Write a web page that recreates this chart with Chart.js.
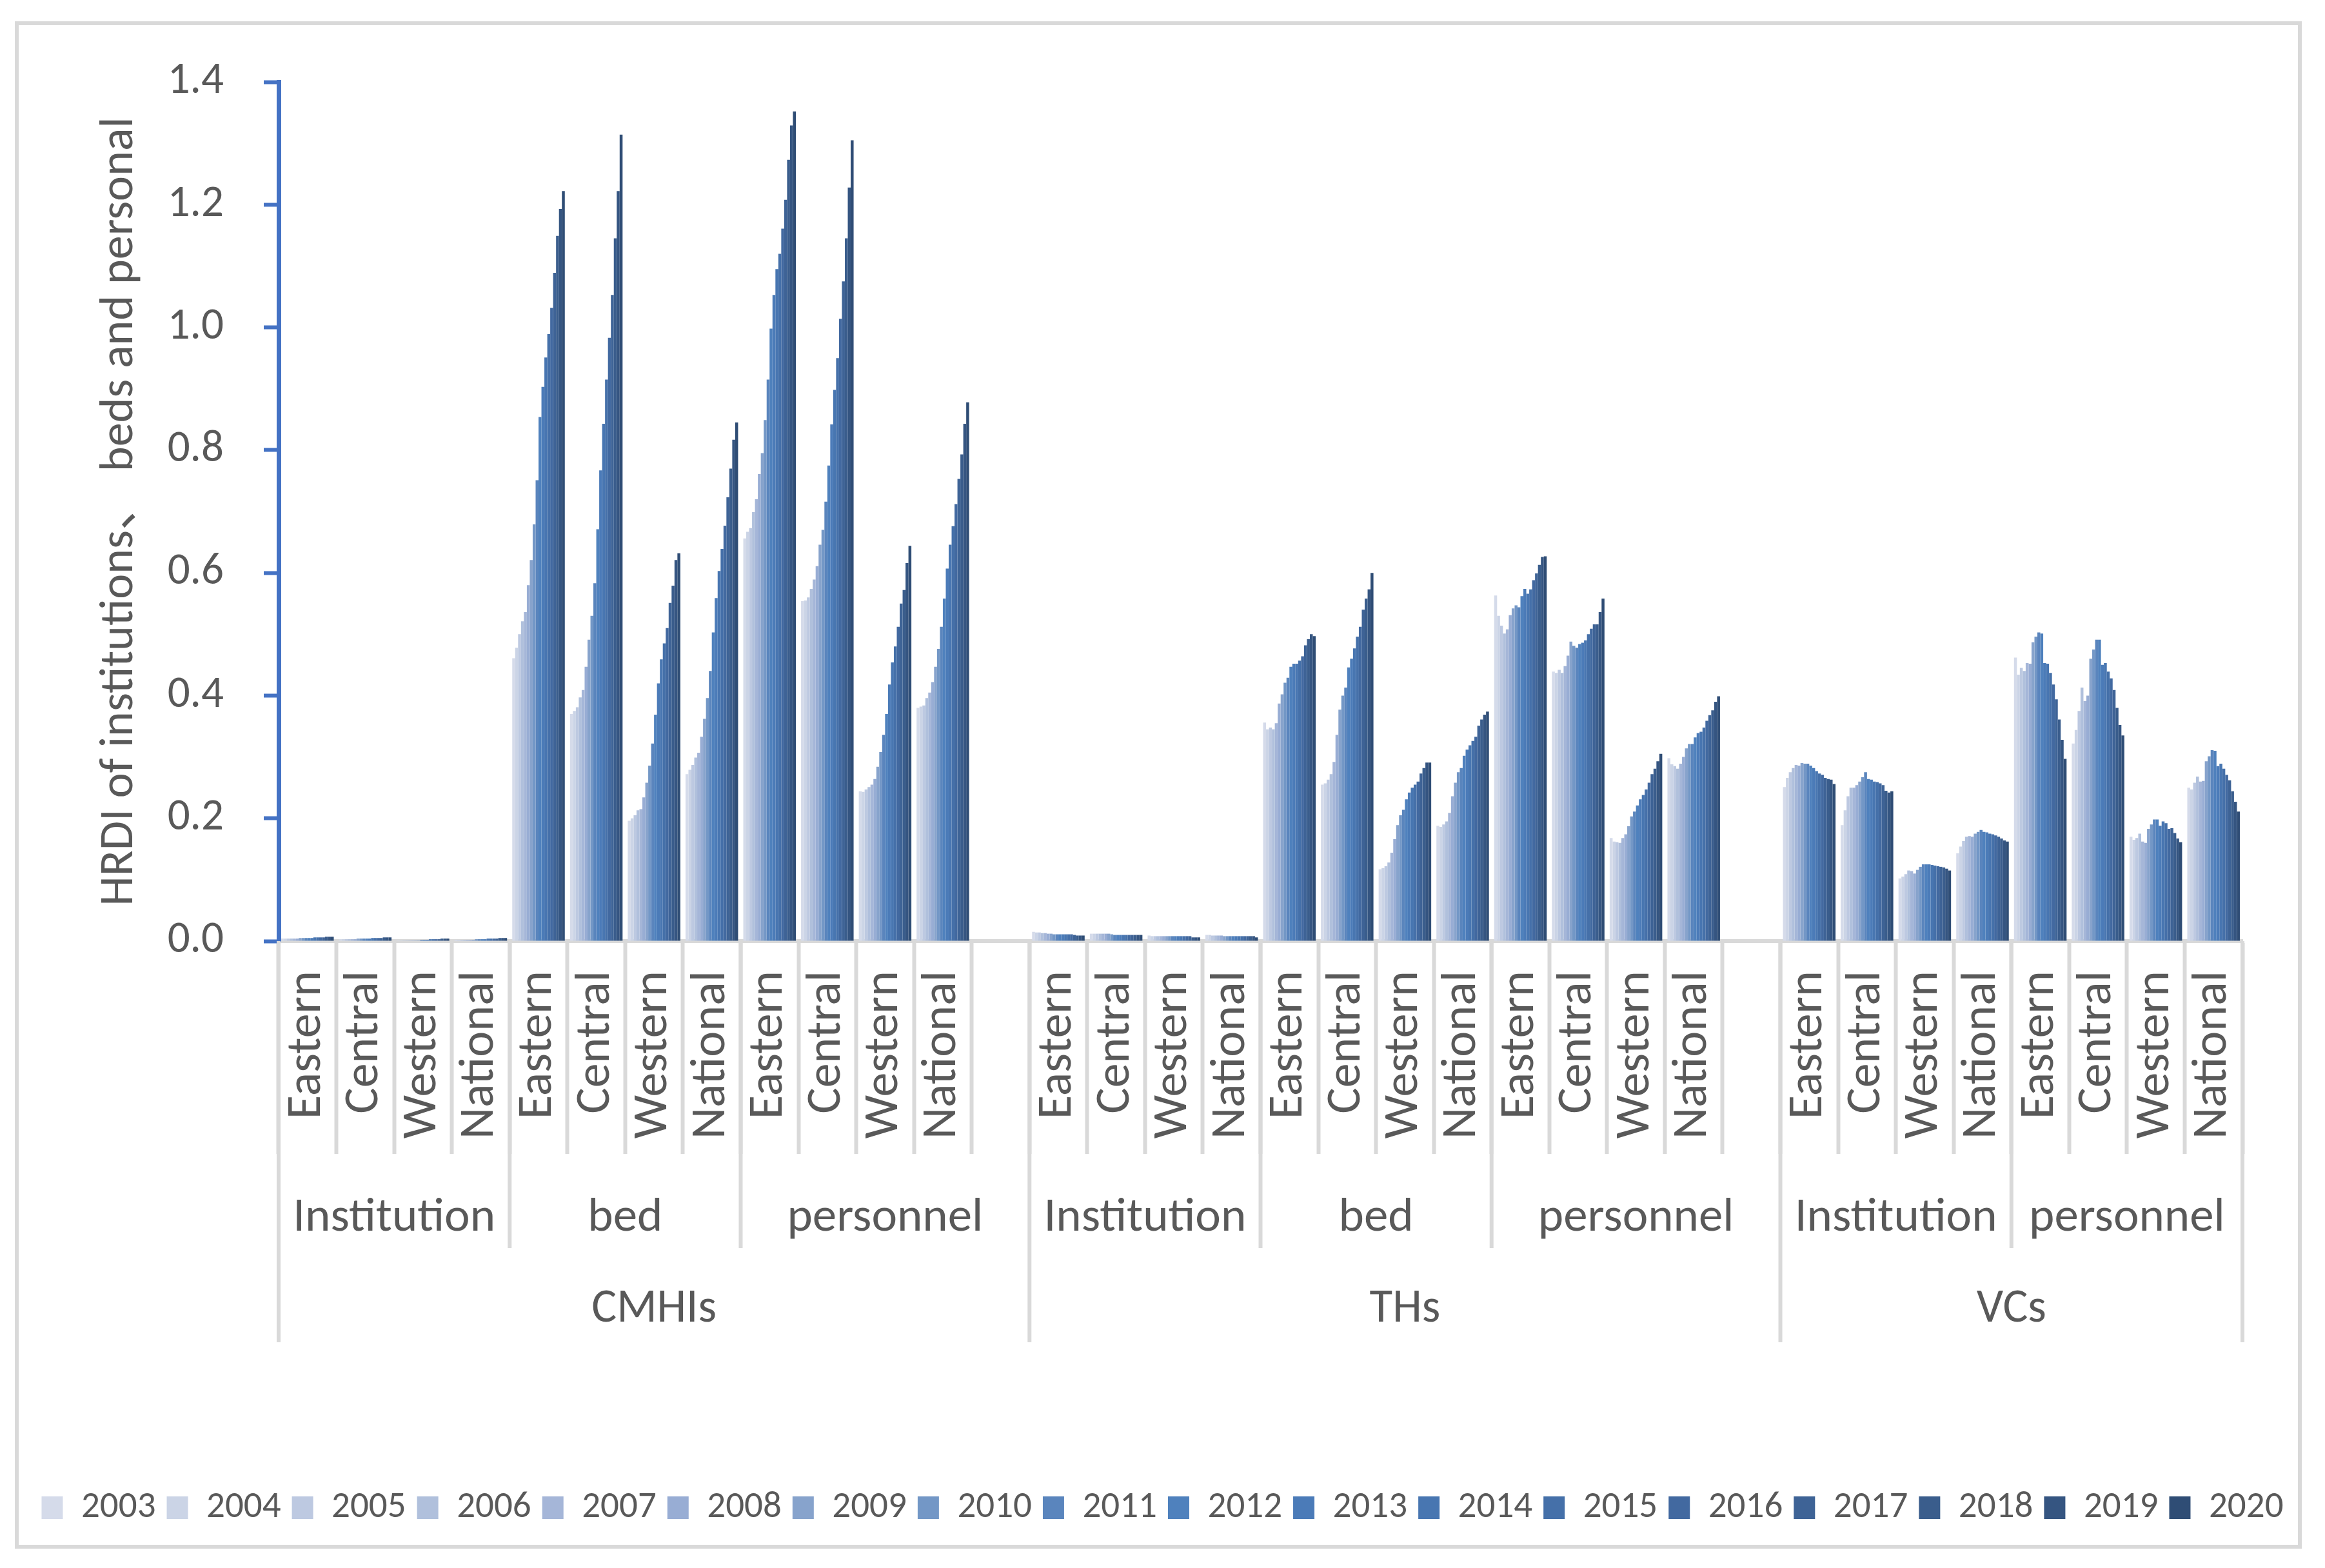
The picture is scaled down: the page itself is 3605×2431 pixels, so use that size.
<!DOCTYPE html>
<html>
<head>
<meta charset="utf-8">
<script src="https://cdn.jsdelivr.net/npm/chart.js@4.4.1/dist/chart.umd.min.js"></script>
<style>
html,body{margin:0;padding:0;background:#ffffff;}
#wrap{width:3605px;height:2431px;position:relative;}
</style>
</head>
<body>
<div id="wrap"><canvas id="c"></canvas></div>
<script>
// ---------- data ----------
const years = ['2003','2004','2005','2006','2007','2008','2009','2010','2011','2012','2013','2014','2015','2016','2017','2018','2019','2020'];
const regionLabels = ['Eastern','Central','Western','National'];

const cmhiInstEastern  = [0.004,0.004,0.004,0.004,0.004,0.004,0.005,0.005,0.005,0.005,0.005,0.006,0.006,0.006,0.006,0.007,0.007,0.007];
const cmhiInstCentral  = [0.003,0.003,0.003,0.003,0.003,0.003,0.004,0.004,0.004,0.004,0.004,0.005,0.005,0.005,0.005,0.006,0.006,0.006];
const cmhiInstWestern  = [0.001,0.001,0.001,0.001,0.001,0.001,0.001,0.001,0.002,0.002,0.002,0.003,0.003,0.003,0.003,0.004,0.004,0.004];
const cmhiInstNational = [0.002,0.002,0.002,0.002,0.002,0.002,0.002,0.003,0.003,0.003,0.003,0.004,0.004,0.004,0.004,0.005,0.005,0.005];
const cmhiBedEastern   = [0.461,0.478,0.500,0.521,0.536,0.580,0.621,0.679,0.751,0.854,0.903,0.951,0.989,1.032,1.089,1.149,1.193,1.222];
const cmhiBedCentral   = [0.370,0.375,0.381,0.397,0.409,0.447,0.491,0.530,0.583,0.671,0.767,0.843,0.915,0.983,1.053,1.145,1.222,1.314];
const cmhiBedWestern   = [0.196,0.200,0.205,0.213,0.215,0.234,0.258,0.286,0.322,0.369,0.420,0.459,0.485,0.510,0.551,0.579,0.621,0.632];
const cmhiBedNational  = [0.272,0.279,0.287,0.299,0.307,0.333,0.362,0.396,0.440,0.503,0.559,0.603,0.639,0.677,0.723,0.770,0.817,0.845];
const cmhiPersEastern  = [0.656,0.667,0.673,0.699,0.720,0.761,0.795,0.849,0.915,0.998,1.053,1.095,1.120,1.161,1.208,1.273,1.329,1.352];
const cmhiPersCentral  = [0.554,0.555,0.560,0.574,0.589,0.611,0.646,0.670,0.716,0.775,0.842,0.898,0.950,1.014,1.075,1.145,1.228,1.305];
const cmhiPersWestern  = [0.244,0.243,0.247,0.251,0.255,0.264,0.284,0.308,0.336,0.370,0.418,0.454,0.480,0.512,0.550,0.572,0.616,0.644];
const cmhiPersNational = [0.380,0.382,0.384,0.396,0.405,0.422,0.447,0.476,0.512,0.558,0.607,0.646,0.676,0.712,0.753,0.793,0.843,0.878];

const thInstEastern  = [0.015,0.014,0.014,0.013,0.013,0.012,0.012,0.011,0.011,0.011,0.011,0.011,0.011,0.011,0.010,0.009,0.009,0.009];
const thInstCentral  = [0.012,0.012,0.012,0.012,0.012,0.012,0.012,0.011,0.010,0.010,0.010,0.010,0.010,0.010,0.010,0.010,0.010,0.010];
const thInstWestern  = [0.009,0.008,0.008,0.008,0.008,0.008,0.008,0.008,0.008,0.008,0.008,0.008,0.008,0.008,0.008,0.006,0.006,0.006];
const thInstNational = [0.010,0.010,0.009,0.009,0.009,0.009,0.008,0.008,0.008,0.008,0.008,0.008,0.008,0.008,0.008,0.008,0.008,0.006];
const thBedEastern   = [0.356,0.345,0.348,0.345,0.355,0.387,0.402,0.421,0.429,0.447,0.452,0.452,0.457,0.464,0.482,0.492,0.500,0.497];
const thBedCentral   = [0.255,0.257,0.263,0.272,0.292,0.336,0.377,0.400,0.413,0.446,0.460,0.477,0.496,0.512,0.540,0.558,0.573,0.600];
const thBedWestern   = [0.117,0.119,0.122,0.128,0.144,0.166,0.189,0.205,0.214,0.231,0.242,0.250,0.255,0.260,0.273,0.282,0.291,0.291];
const thBedNational  = [0.188,0.186,0.190,0.195,0.209,0.236,0.258,0.275,0.282,0.302,0.312,0.319,0.326,0.333,0.351,0.361,0.369,0.374];
const thPersEastern  = [0.563,0.530,0.514,0.501,0.508,0.531,0.542,0.547,0.544,0.562,0.574,0.566,0.573,0.588,0.599,0.613,0.626,0.627];
const thPersCentral  = [0.439,0.437,0.442,0.437,0.448,0.465,0.488,0.481,0.478,0.484,0.486,0.490,0.500,0.509,0.516,0.516,0.536,0.558];
const thPersWestern  = [0.168,0.162,0.161,0.160,0.168,0.174,0.187,0.203,0.211,0.221,0.231,0.238,0.247,0.258,0.272,0.281,0.293,0.305];
const thPersNational = [0.298,0.288,0.285,0.281,0.289,0.300,0.314,0.321,0.321,0.332,0.339,0.341,0.348,0.359,0.368,0.376,0.390,0.399];

const vcInstEastern  = [0.251,0.266,0.275,0.282,0.287,0.286,0.290,0.289,0.289,0.286,0.282,0.277,0.273,0.271,0.266,0.264,0.263,0.256];
const vcInstCentral  = [0.189,0.213,0.236,0.250,0.250,0.254,0.260,0.267,0.275,0.264,0.263,0.260,0.259,0.257,0.254,0.245,0.242,0.244];
const vcInstWestern  = [0.102,0.105,0.109,0.115,0.114,0.110,0.116,0.121,0.125,0.125,0.125,0.124,0.123,0.122,0.121,0.120,0.118,0.115];
const vcInstNational = [0.143,0.154,0.163,0.170,0.171,0.170,0.175,0.178,0.181,0.178,0.177,0.175,0.174,0.172,0.170,0.167,0.164,0.162];
const vcPersEastern  = [0.462,0.434,0.445,0.440,0.453,0.452,0.487,0.496,0.503,0.501,0.453,0.452,0.437,0.418,0.394,0.361,0.328,0.297];
const vcPersCentral  = [0.322,0.344,0.375,0.413,0.391,0.400,0.460,0.475,0.491,0.491,0.450,0.453,0.439,0.428,0.409,0.380,0.352,0.335];
const vcPersWestern  = [0.170,0.165,0.168,0.175,0.162,0.160,0.183,0.190,0.198,0.198,0.188,0.195,0.192,0.183,0.184,0.176,0.167,0.161];
const vcPersNational = [0.250,0.247,0.258,0.268,0.260,0.261,0.293,0.301,0.311,0.310,0.285,0.289,0.281,0.271,0.262,0.244,0.227,0.211];

// category rows in axis order (null = empty spacer category)
const rows = [
  cmhiInstEastern, cmhiInstCentral, cmhiInstWestern, cmhiInstNational,
  cmhiBedEastern, cmhiBedCentral, cmhiBedWestern, cmhiBedNational,
  cmhiPersEastern, cmhiPersCentral, cmhiPersWestern, cmhiPersNational, null,
  thInstEastern, thInstCentral, thInstWestern, thInstNational,
  thBedEastern, thBedCentral, thBedWestern, thBedNational,
  thPersEastern, thPersCentral, thPersWestern, thPersNational, null,
  vcInstEastern, vcInstCentral, vcInstWestern, vcInstNational,
  vcPersEastern, vcPersCentral, vcPersWestern, vcPersNational
];
const categoryLabels = [
  ...regionLabels, ...regionLabels, ...regionLabels, '',
  ...regionLabels, ...regionLabels, ...regionLabels, '',
  ...regionLabels, ...regionLabels
];
const level2Labels = ['Institution','bed','personnel','Institution','bed','personnel','Institution','personnel'];
const level2Spans  = [4,4,5,4,4,5,4,4];
const level3Labels = ['CMHIs','THs','VCs'];
const level3Spans  = [13,13,8];
const yTitle = 'HRDI of institutions\u3001 beds and personal';

// ---------- style ----------
const yearColors = ['#d5dbea','#cbd4e6','#bdc9e1','#b0c0dc','#a5b6d8','#98add4','#87a3cc','#7397c6','#5a85bd',
                    '#4f81bd','#4b7bb8','#4876b1','#4570a9','#4269a0','#3e6396','#3a5d8c','#355581','#2f4d75'];
const FONT = "Carlito, Calibri, Lato, 'Noto Sans CJK SC', sans-serif";
const TXT = '#595959';
const GRAY = '#d9d9d9';

const datasets = years.map((y, j) => ({
  label: y,
  data: rows.map(r => r ? r[j] : null),
  backgroundColor: yearColors[j],
  borderWidth: 0,
  categoryPercentage: 0.91,
  barPercentage: 1.0
}));

const hierPlugin = {
  id: 'hier',
  beforeDraw(chart) {
    const ctx = chart.ctx;
    ctx.save();
    ctx.fillStyle = '#ffffff';
    ctx.fillRect(0, 0, chart.width, chart.height);
    ctx.strokeStyle = GRAY;
    ctx.lineWidth = 6;
    ctx.strokeRect(26, 36, 3540, 2362);
    ctx.restore();
  },
  afterDraw(chart) {
    const xs = chart.scales.x;
    const ctx = chart.ctx;
    const top = xs.top;
    const half = (xs.getPixelForValue(1) - xs.getPixelForValue(0)) / 2;
    const edge = i => xs.getPixelForValue(i) - half;
    ctx.save();
    ctx.strokeStyle = GRAY;
    ctx.lineWidth = 6;
    let idx = 0;
    const l3Edges = new Set([0]);
    let acc = 0;
    level3Spans.forEach(s => { acc += s; l3Edges.add(acc); });
    ctx.fillStyle = TXT;
    ctx.textAlign = 'center';
    ctx.textBaseline = 'middle';
    ctx.font = `75px ${FONT}`;
    level2Spans.forEach((s, k) => {
      const x0 = edge(idx), x1 = edge(idx + s);
      if (!l3Edges.has(idx)) {
        ctx.beginPath(); ctx.moveTo(x0, top); ctx.lineTo(x0, top + 476); ctx.stroke();
      }
      ctx.fillText(level2Labels[k], (x0 + x1) / 2, top + 430);
      idx += s;
    });
    idx = 0;
    ctx.font = `73px ${FONT}`;
    level3Spans.forEach((s, k) => {
      const x0 = edge(idx), x1 = edge(idx + s);
      ctx.beginPath(); ctx.moveTo(x0, top); ctx.lineTo(x0, top + 622); ctx.stroke();
      ctx.fillText(level3Labels[k], (x0 + x1) / 2, top + 572);
      idx += s;
    });
    const xe = edge(idx);
    ctx.beginPath(); ctx.moveTo(xe, top); ctx.lineTo(xe, top + 622); ctx.stroke();
    ctx.restore();
  }
};

new Chart(document.getElementById('c'), {
  type: 'bar',
  data: { labels: categoryLabels, datasets },
  plugins: [hierPlugin],
  options: {
    responsive: true,
    maintainAspectRatio: false,
    devicePixelRatio: 1,
    animation: false,
    layout: { padding: { left: 0, right: 0, top: 127, bottom: 55 } },
    plugins: {
      tooltip: { enabled: false },
      legend: {
        position: 'bottom',
        align: 'center',
        labels: {
          boxWidth: 33,
          boxHeight: 35,
          padding: 17,
          color: TXT,
          font: { family: FONT, size: 57 }
        }
      }
    },
    scales: {
      x: {
        type: 'category',
        offset: true,
        grid: {
          display: true,
          offset: true,
          drawOnChartArea: false,
          drawTicks: true,
          tickLength: 330,
          tickWidth: 6,
          tickColor: GRAY,
          color: GRAY
        },
        border: { display: true, color: GRAY, width: 6 },
        ticks: {
          autoSkip: false,
          maxRotation: 90,
          minRotation: 90,
          padding: -284,
          color: TXT,
          font: { family: FONT, size: 76 }
        },
        afterFit(scale) { scale.height = 833; }
      },
      y: {
        min: 0,
        max: 1.4,
        ticks: {
          stepSize: 0.2,
          padding: 62,
          color: TXT,
          font: { family: FONT, size: 69 },
          callback: v => Number(v).toFixed(1)
        },
        grid: {
          display: true,
          drawOnChartArea: false,
          drawTicks: true,
          tickLength: 23,
          tickWidth: 6,
          tickColor: '#4472c4',
          color: '#4472c4'
        },
        border: { display: true, color: '#4472c4', width: 7 },
        title: {
          display: true,
          text: yTitle,
          color: TXT,
          padding: { top: 142, bottom: 0 },
          font: { family: FONT, size: 74 }
        },
        afterFit(scale) { scale.width = 432; }
      },
      spacerRight: {
        type: 'linear',
        position: 'right',
        display: true,
        grid: { display: false, drawTicks: false },
        border: { display: false },
        ticks: { display: false },
        afterFit(scale) { scale.width = 128; }
      }
    }
  }
});
</script>
</body>
</html>
